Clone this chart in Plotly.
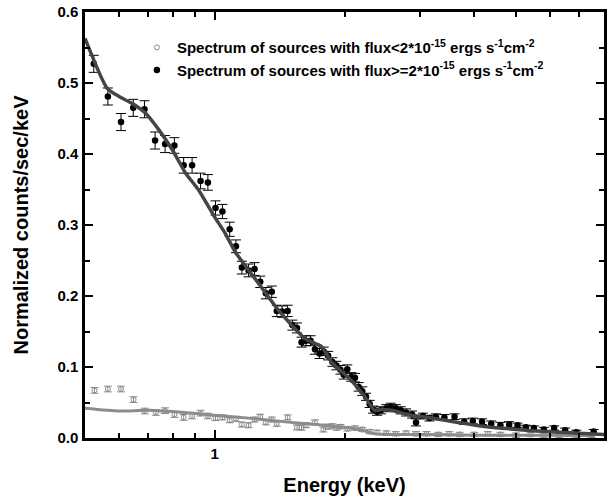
import plotly.graph_objects as go

# ---------------- data ----------------
E_bright = [0.524, 0.565, 0.606, 0.647, 0.687, 0.727, 0.767, 0.806, 0.847, 0.886,
            0.927, 0.964, 1.004, 1.042, 1.083, 1.120, 1.156, 1.198, 1.237, 1.275,
            1.314, 1.356, 1.393, 1.433, 1.476, 1.514, 1.552, 1.590, 1.628, 1.669,
            1.708, 1.750, 1.790, 1.832, 1.875, 1.915, 1.957, 1.992, 2.030, 2.073,
            2.115, 2.157, 2.199, 2.244, 2.288, 2.330, 2.380, 2.430, 2.500, 2.560,
            2.630, 2.700, 2.780, 2.870, 2.930, 3.040, 3.150, 3.260, 3.410, 3.600,
            3.790, 3.970, 4.170, 4.380, 4.600, 4.820, 5.040, 5.270, 5.500, 5.800,
            6.130, 6.500, 6.900, 7.570]
F_bright = [0.527, 0.481, 0.445, 0.465, 0.463, 0.419, 0.414, 0.412, 0.384, 0.384,
            0.362, 0.360, 0.324, 0.319, 0.294, 0.270, 0.240, 0.236, 0.238, 0.220,
            0.204, 0.206, 0.179, 0.178, 0.179, 0.159, 0.155, 0.135, 0.137, 0.137,
            0.125, 0.119, 0.122, 0.116, 0.107, 0.102, 0.096, 0.089, 0.097, 0.086,
            0.085, 0.072, 0.066, 0.058, 0.048, 0.040, 0.037, 0.039, 0.042, 0.044,
            0.042, 0.039, 0.036, 0.033, 0.022, 0.031, 0.028, 0.030, 0.029, 0.030,
            0.023, 0.024, 0.023, 0.020, 0.018, 0.019, 0.018, 0.015, 0.014, 0.012,
            0.014, 0.011, 0.008, 0.009]
Err_bright = [0.012, 0.012, 0.012, 0.012, 0.012, 0.012, 0.012, 0.011, 0.011, 0.011,
              0.011, 0.011, 0.010, 0.010, 0.010, 0.009, 0.009, 0.009, 0.009, 0.008,
              0.008, 0.008, 0.008, 0.008, 0.008, 0.007, 0.007, 0.007, 0.007, 0.007,
              0.007, 0.007, 0.006, 0.006, 0.006, 0.006, 0.006, 0.006, 0.006, 0.006,
              0.006, 0.006, 0.006, 0.005, 0.005, 0.005, 0.005, 0.005, 0.005, 0.005,
              0.005, 0.005, 0.005, 0.005, 0.005, 0.004, 0.004, 0.004, 0.004, 0.004,
              0.004, 0.004, 0.004, 0.004, 0.004, 0.004, 0.003, 0.003, 0.003, 0.003,
              0.003, 0.003, 0.003, 0.003]

E_faint = [0.526, 0.565, 0.606, 0.648, 0.688, 0.730, 0.767, 0.806, 0.847, 0.886,
           0.927, 0.964, 1.004, 1.042, 1.083, 1.120, 1.156, 1.198, 1.237, 1.275,
           1.314, 1.356, 1.393, 1.476, 1.552, 1.590, 1.628, 1.708, 1.787, 1.832,
           1.875, 1.915, 1.957, 2.030, 2.115, 2.199, 2.288, 2.380, 2.500, 2.630,
           2.780, 2.930, 3.100, 3.300, 3.500, 3.700, 4.000, 4.300, 4.600, 5.000,
           5.400, 5.800, 6.300, 6.900, 7.500]
F_faint = [0.067, 0.069, 0.069, 0.054, 0.038, 0.036, 0.0385, 0.033, 0.029, 0.031,
           0.035, 0.031, 0.028, 0.029, 0.025, 0.027, 0.019, 0.018, 0.026, 0.030,
           0.022, 0.026, 0.020, 0.029, 0.015, 0.0145, 0.018, 0.022, 0.012, 0.016,
           0.017, 0.014, 0.016, 0.013, 0.014, 0.012, 0.009, 0.008, 0.007, 0.006,
           0.007, 0.006, 0.006, 0.005, 0.006, 0.005, 0.005, 0.006, 0.005, 0.004,
           0.005, 0.004, 0.004, 0.004, 0.004]
Err_faint = [0.004] * 12 + [0.0035] * 18 + [0.003] * 25

E_model_bright = [0.5, 0.563, 0.6, 0.644, 0.692, 0.742, 0.797, 0.856, 0.918, 1.0,
                  1.058, 1.116, 1.263, 1.405, 1.62, 1.77, 1.865, 2.07, 2.23, 2.35,
                  2.43, 2.57, 2.85, 3.12, 4.14, 5.9, 7.56, 8.0]
F_model_bright = [0.563, 0.4925, 0.481, 0.471, 0.457, 0.434, 0.406, 0.373, 0.349, 0.311,
                  0.288, 0.262, 0.218, 0.180, 0.140, 0.1286, 0.107, 0.0817, 0.058, 0.039,
                  0.040, 0.039, 0.032, 0.029, 0.017, 0.009, 0.0056, 0.005]

E_model_faint = [0.5, 0.6, 0.7, 0.85, 1.0, 1.2, 1.5, 1.8, 2.0, 2.2, 2.35, 2.6, 3.0,
                 4.0, 5.0, 6.0, 7.6]
F_model_faint = [0.042, 0.038, 0.039, 0.036, 0.032, 0.028, 0.022, 0.018, 0.015, 0.011,
                 0.006, 0.005, 0.005, 0.004, 0.004, 0.004, 0.003]

legend_faint = "Spectrum of sources with flux&lt;2*10<sup>-15</sup> ergs s<sup>-1</sup>cm<sup>-2</sup>"
legend_bright = "Spectrum of sources with flux&gt;=2*10<sup>-15</sup> ergs s<sup>-1</sup>cm<sup>-2</sup>"

x_major = [1]
x_major_text = ["1"]
x_minor = [0.6, 0.7, 0.8, 0.9, 2, 3, 4, 5, 6, 7]

FONT = "Arial, Liberation Sans, sans-serif"

fig = go.Figure()

fig.add_trace(go.Scatter(
    x=E_faint, y=F_faint, mode="markers", name=legend_faint,
    marker=dict(symbol="circle-open", size=5, color="#8a8a8a", line=dict(width=1, color="#8a8a8a")),
    error_y=dict(type="data", array=Err_faint, color="#8a8a8a", thickness=1, width=4),
))
fig.add_trace(go.Scatter(
    x=E_bright, y=F_bright, mode="markers", name=legend_bright,
    marker=dict(symbol="circle", size=6.5, color="black"),
    error_y=dict(type="data", array=Err_bright, color="black", thickness=1, width=5),
))
fig.add_trace(go.Scatter(
    x=E_model_faint, y=F_model_faint, mode="lines", showlegend=False,
    line=dict(color="#8c8c8c", width=3, shape="spline", smoothing=0.6),
))
fig.add_trace(go.Scatter(
    x=E_model_bright, y=F_model_bright, mode="lines", showlegend=False,
    line=dict(color="#454545", width=3.5, shape="spline", smoothing=0.6),
))

axis_common = dict(
    showline=True, linecolor="black", linewidth=2.5, mirror="allticks",
    ticks="inside", tickcolor="black", tickwidth=2, ticklen=8,
    showgrid=False, zeroline=False,
    tickfont=dict(family=FONT, size=15, color="black", weight="bold"),
)

fig.update_xaxes(
    type="log", range=[-0.30103, 0.90309],
    tickmode="array", tickvals=x_major, ticktext=x_major_text,
    minor=dict(tickmode="array", tickvals=x_minor, ticks="inside", ticklen=5,
               tickwidth=2, tickcolor="black", showgrid=False),
    title=dict(text="Energy (keV)", font=dict(family=FONT, size=20, color="black", weight="bold"),
               standoff=18),
    ticklabelstandoff=0,
    **axis_common,
)
fig.update_yaxes(
    range=[0, 0.6], dtick=0.1, tick0=0, tickformat=".1f",
    minor=dict(dtick=0.05, ticks="inside", ticklen=5, tickwidth=2, tickcolor="black", showgrid=False),
    title=dict(text="Normalized counts/sec/keV", font=dict(family=FONT, size=20, color="black", weight="bold"),
               standoff=24),
    ticklabelstandoff=1,
    **axis_common,
)

fig.update_layout(
    width=608, height=503,
    margin=dict(l=85, r=1, t=12, b=65),
    paper_bgcolor="white", plot_bgcolor="white",
    font=dict(family=FONT, color="black"),
    legend=dict(x=0.10, y=0.955, xanchor="left", yanchor="top",
                bgcolor="rgba(0,0,0,0)", borderwidth=0,
                font=dict(family=FONT, size=15, color="black", weight="bold")),
)

fig.write_html("out.html")
